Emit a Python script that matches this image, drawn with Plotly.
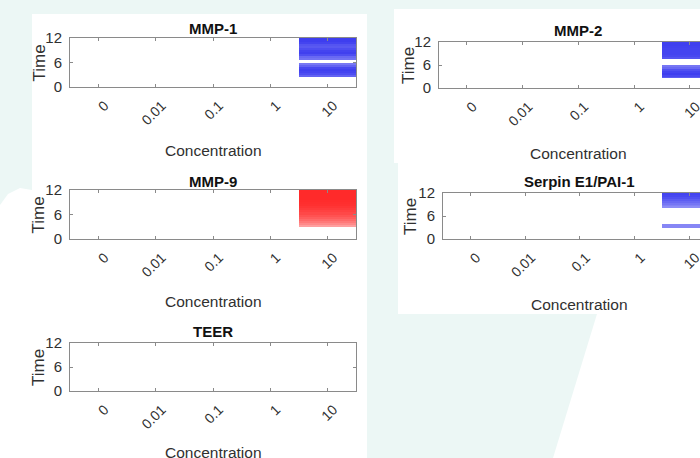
import plotly.graph_objects as go

# ---------------- data ----------------
concentrations = ["0", "0.01", "0.1", "1", "10"]
conc_index = [0, 1, 2, 3, 4]
time_ticks = [0, 6, 12]
# time bins (hours): centres of 0.5 h rows from 0 to 12
time_centers = [0.25, 0.75, 1.25, 1.75, 2.25, 2.75, 3.25, 3.75, 4.25, 4.75, 5.25, 5.75,
                6.25, 6.75, 7.25, 7.75, 8.25, 8.75, 9.25, 9.75, 10.25, 10.75, 11.25, 11.75]

# response intensity in the "10" concentration column (other columns are 0)
mmp1_at_10 = [0, 0, 0, 0, 0, 0.75, 0.85, 0.9, 0.92, 0.88, 0.75, 0.65,
              0, 0.68, 0.72, 0.85, 0.92, 0.9, 0.85, 0.8, 0.82, 0.9, 0.93, 0.93]
mmp2_at_10 = [0, 0, 0, 0, 0, 0.78, 0.88, 0.93, 0.9, 0.84, 0.72, 0.66,
              0, 0, 0, 0.82, 0.88, 0.9, 0.9, 0.9, 0.9, 0.91, 0.92, 0.92]
mmp9_at_10 = [0, 0, 0, 0, 0, 0, 0.45, 0.55, 0.63, 0.7, 0.76, 0.81,
              0.86, 0.89, 0.92, 0.95, 0.97, 0.98, 0.99, 1, 1, 1, 1, 1]
serpin_at_10 = [0, 0, 0, 0, 0, 0, 0.58, 0.58, 0, 0, 0, 0,
                0, 0, 0, 0, 0.55, 0.6, 0.66, 0.72, 0.78, 0.84, 0.88, 0.9]
teer_at_10 = [0, 0, 0, 0, 0, 0, 0, 0, 0, 0, 0, 0,
              0, 0, 0, 0, 0, 0, 0, 0, 0, 0, 0, 0]

titles = ["MMP-1", "MMP-2", "MMP-9", "Serpin E1/PAI-1", "TEER"]

# ---------------- styling / layout ----------------
W, H = 700, 458
TEAL = "#ecf7f5"
BLUE_SCALE = [[0, "#ffffff"], [1, "#2f2fee"]]
RED_SCALE = [[0, "#ffffff"], [1, "#ff2a2a"]]
FONT = "Arial, Liberation Sans, sans-serif"


def px_x(v):
    return v / W


def px_y(v):
    return 1 - v / H


panels = [
    dict(vals=mmp1_at_10, scale=BLUE_SCALE, box=(70, 356, 38, 87), xr=[-0.5, 4.5],
         ty=28, lx=39, cy=151, ymir="ticks"),
    dict(vals=mmp2_at_10, scale=BLUE_SCALE, box=(439, 700, 42, 88), xr=[-0.5, 4.18],
         ty=30, lx=408, cy=153, ymir=False),
    dict(vals=mmp9_at_10, scale=RED_SCALE, box=(70, 356, 190, 239), xr=[-0.5, 4.5],
         ty=181, lx=38, cy=301, ymir="ticks"),
    dict(vals=serpin_at_10, scale=BLUE_SCALE, box=(443, 700, 193, 239), xr=[-0.5, 4.19],
         ty=182, lx=411, cy=304, ymir=False),
    dict(vals=teer_at_10, scale=BLUE_SCALE, box=(70, 356, 343, 391), xr=[-0.5, 4.5],
         ty=331, lx=38, cy=452, ymir="ticks"),
]

fig = go.Figure()
annotations = []
layout_axes = {}

for i, (p, title) in enumerate(zip(panels, titles)):
    n = i + 1
    xa = "x" if n == 1 else f"x{n}"
    ya = "y" if n == 1 else f"y{n}"
    z = [[0, 0, 0, 0, v] for v in p["vals"]]
    fig.add_trace(go.Heatmap(
        x=conc_index, y=time_centers, z=z, zmin=0, zmax=1,
        colorscale=p["scale"], showscale=False, hoverinfo="skip",
        xaxis=xa, yaxis=ya))
    x0, x1, y0, y1 = p["box"]
    xkey = "xaxis" if n == 1 else f"xaxis{n}"
    ykey = "yaxis" if n == 1 else f"yaxis{n}"
    layout_axes[xkey] = dict(
        domain=[px_x(x0), px_x(x1)], anchor=ya, range=p["xr"],
        tickmode="array", tickvals=conc_index, ticktext=concentrations,
        tickangle=-45, ticks="inside", ticklen=3, tickcolor="#8a8a8a",
        showline=True, linecolor="#8a8a8a", linewidth=1, mirror="ticks",
        showgrid=False, zeroline=False, ticklabelstandoff=4, ticklabelshift=6,
        ticklabeloverflow="allow",
        tickfont=dict(family=FONT, size=14, color="#303030"), fixedrange=True,
        automargin=False)
    layout_axes[ykey] = dict(
        domain=[px_y(y1), px_y(y0)], anchor=xa, range=[0, 12],
        tickmode="array", tickvals=time_ticks,
        ticks="inside", ticklen=3, tickcolor="#8a8a8a",
        showline=True, linecolor="#8a8a8a", linewidth=1, mirror=p["ymir"],
        showgrid=False, zeroline=False, ticklabelstandoff=4,
        tickfont=dict(family=FONT, size=15, color="#303030"), fixedrange=True,
        automargin=False)
    cx = (x0 + x1) / 2 if p["xr"][1] > 4.4 else (x0 + x0 + 5 * (x1 - x0) / (p["xr"][1] + 0.5)) / 2
    annotations.append(dict(text=f"<b>{title}</b>", x=px_x(cx), y=px_y(p["ty"]),
                            xref="paper", yref="paper", showarrow=False,
                            xanchor="center", yanchor="middle",
                            font=dict(family=FONT, size=15, color="#111111")))
    annotations.append(dict(text="Concentration", x=px_x(cx), y=px_y(p["cy"]),
                            xref="paper", yref="paper", showarrow=False,
                            xanchor="center", yanchor="middle",
                            font=dict(family=FONT, size=15.5, color="#303030")))
    annotations.append(dict(text="Time", x=px_x(p["lx"]), y=px_y((y0 + y1) / 2 + 1),
                            xref="paper", yref="paper", showarrow=False, textangle=-90,
                            xanchor="center", yanchor="middle",
                            font=dict(family=FONT, size=17, color="#303030")))


def rect(xa, ya, xb, yb):
    return dict(type="rect", xref="paper", yref="paper", layer="below",
                x0=px_x(xa), x1=px_x(xb), y0=px_y(yb), y1=px_y(ya),
                fillcolor=TEAL, line=dict(width=0))


def poly(points):
    d = "M " + " L ".join(f"{px_x(a)},{px_y(b)}" for a, b in points) + " Z"
    return dict(type="path", xref="paper", yref="paper", layer="below", path=d,
                fillcolor=TEAL, line=dict(width=0))


shapes = [
    rect(0, 0, 394, 14),
    rect(394, 0, 700, 9),
    poly([(0, 0), (32, 0), (32, 190), (20, 188), (8, 194), (0, 205)]),
    rect(367, 0, 394, 163),
    rect(367, 163, 398, 458),
    poly([(367, 314), (597, 314), (553, 458), (367, 458)]),
]

fig.update_layout(
    width=W, height=H, margin=dict(l=0, r=0, t=0, b=0, pad=0, autoexpand=False),
    paper_bgcolor="#ffffff", plot_bgcolor="#ffffff",
    showlegend=False, annotations=annotations, shapes=shapes,
    **layout_axes)

fig.write_html("out.html", config={"displayModeBar": False, "staticPlot": True},
               post_script="document.body.style.margin='0';document.body.style.padding='0';")
